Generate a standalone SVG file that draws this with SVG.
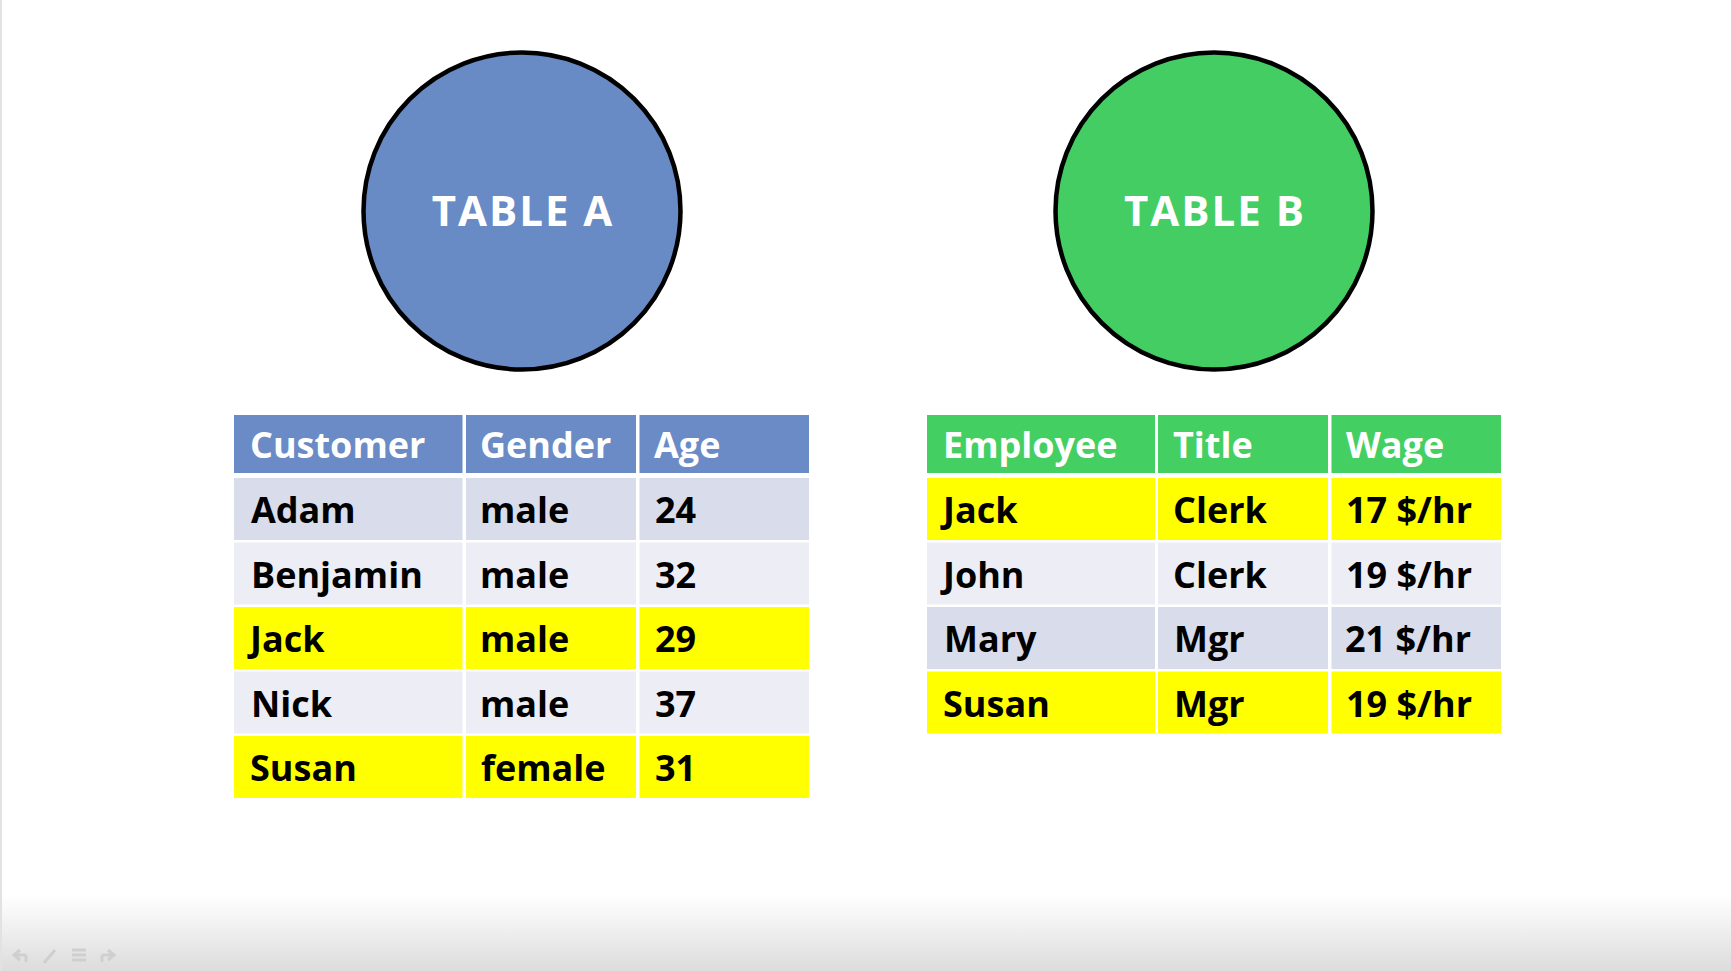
<svg xmlns="http://www.w3.org/2000/svg" width="1731" height="971" viewBox="0 0 1731 971">
<defs>
<linearGradient id="bottomFade" x1="0" y1="0" x2="0" y2="1">
<stop offset="0" stop-color="#ffffff"/>
<stop offset="1" stop-color="#dcdcdc"/>
</linearGradient>
</defs>
<style>
.t{font-family:"Open Sans","Liberation Sans",sans-serif;font-weight:700;font-size:36px;fill:#000}
.h{fill:#fff}
.circ{stroke:#000;stroke-width:4.5}
.ct{font-family:"Open Sans","Liberation Sans",sans-serif;font-weight:700;font-size:42px;fill:#fff;letter-spacing:2px;text-anchor:middle}
.hA{fill:#6a8bc6}
.hB{fill:#44cf63}
.dk{fill:#d9dcea}
.lt{fill:#ededf5}
.yl{fill:#ffff00}
.ic{fill:none;stroke:#cfcfcf;stroke-width:3}
</style>
<rect x="0" y="0" width="1731" height="971" fill="#ffffff"/>
<rect x="0" y="895" width="1731" height="76" fill="url(#bottomFade)"/>
<rect x="0" y="0" width="2" height="971" fill="#e2e2e2"/>
<g id="toolbar">
<path class="ic" d="M26 955 L16 955 M20 950 L14 955 L20 960 M26 955 L26 962"/>
<path class="ic" d="M44 963 L55 950"/>
<path class="ic" d="M72 950 H86 M72 955 H86 M72 960 H86"/>
<path class="ic" d="M102 955 H112 M108 950 L114 955 L108 960 M102 955 V962"/>
</g>
<g id="connectors"/>
<g id="circle-a">
<circle class="circ" cx="522" cy="211" r="158.5" fill="#688ac5"/>
<text class="ct" x="523" y="226">TABLE A</text>
</g>
<g id="circle-b">
<circle class="circ" cx="1214" cy="211" r="158.5" fill="#43cd62"/>
<text class="ct" x="1215" y="226">TABLE B</text>
</g>
<g id="table-a">
<rect class="hA" x="234" y="415" width="228.5" height="58"/>
<rect class="hA" x="466" y="415" width="170" height="58"/>
<rect class="hA" x="639.5" y="415" width="169.5" height="58"/>
<text class="t h" x="250" y="458">Customer</text>
<text class="t h" x="480" y="458">Gender</text>
<text class="t h" x="654" y="458">Age</text>
<rect class="dk" x="234" y="478" width="228.5" height="62"/>
<rect class="dk" x="466" y="478" width="170" height="62"/>
<rect class="dk" x="639.5" y="478" width="169.5" height="62"/>
<text class="t" x="251" y="523">Adam</text>
<text class="t" x="480" y="523">male</text>
<text class="t" x="655" y="523">24</text>
<rect class="lt" x="234" y="542.5" width="228.5" height="62"/>
<rect class="lt" x="466" y="542.5" width="170" height="62"/>
<rect class="lt" x="639.5" y="542.5" width="169.5" height="62"/>
<text class="t" x="251" y="587.5">Benjamin</text>
<text class="t" x="480" y="587.5">male</text>
<text class="t" x="655" y="587.5">32</text>
<rect class="yl" x="234" y="607" width="228.5" height="62"/>
<rect class="yl" x="466" y="607" width="170" height="62"/>
<rect class="yl" x="639.5" y="607" width="169.5" height="62"/>
<text class="t" x="250" y="652">Jack</text>
<text class="t" x="480" y="652">male</text>
<text class="t" x="655" y="652">29</text>
<rect class="lt" x="234" y="671.5" width="228.5" height="62"/>
<rect class="lt" x="466" y="671.5" width="170" height="62"/>
<rect class="lt" x="639.5" y="671.5" width="169.5" height="62"/>
<text class="t" x="251" y="716.5">Nick</text>
<text class="t" x="480" y="716.5">male</text>
<text class="t" x="655" y="716.5">37</text>
<rect class="yl" x="234" y="736" width="228.5" height="62"/>
<rect class="yl" x="466" y="736" width="170" height="62"/>
<rect class="yl" x="639.5" y="736" width="169.5" height="62"/>
<text class="t" x="250" y="781">Susan</text>
<text class="t" x="481" y="781">female</text>
<text class="t" x="655" y="781">31</text>
</g>
<g id="table-b">
<rect class="hB" x="927" y="415" width="228" height="58"/>
<rect class="hB" x="1158" y="415" width="170" height="58"/>
<rect class="hB" x="1331.5" y="415" width="169.5" height="58"/>
<text class="t h" x="943" y="458">Employee</text>
<text class="t h" x="1173" y="458">Title</text>
<text class="t h" x="1346" y="458">Wage</text>
<rect class="yl" x="927" y="478" width="228" height="62"/>
<rect class="yl" x="1158" y="478" width="170" height="62"/>
<rect class="yl" x="1331.5" y="478" width="169.5" height="62"/>
<text class="t" x="943" y="523">Jack</text>
<text class="t" x="1173" y="523">Clerk</text>
<text class="t" x="1346" y="523">17 $/hr</text>
<rect class="lt" x="927" y="542.5" width="228" height="62"/>
<rect class="lt" x="1158" y="542.5" width="170" height="62"/>
<rect class="lt" x="1331.5" y="542.5" width="169.5" height="62"/>
<text class="t" x="943" y="587.5">John</text>
<text class="t" x="1173" y="587.5">Clerk</text>
<text class="t" x="1346" y="587.5">19 $/hr</text>
<rect class="dk" x="927" y="607" width="228" height="62"/>
<rect class="dk" x="1158" y="607" width="170" height="62"/>
<rect class="dk" x="1331.5" y="607" width="169.5" height="62"/>
<text class="t" x="944" y="652">Mary</text>
<text class="t" x="1174" y="652">Mgr</text>
<text class="t" x="1345" y="652">21 $/hr</text>
<rect class="yl" x="927" y="671.5" width="228" height="62"/>
<rect class="yl" x="1158" y="671.5" width="170" height="62"/>
<rect class="yl" x="1331.5" y="671.5" width="169.5" height="62"/>
<text class="t" x="943" y="716.5">Susan</text>
<text class="t" x="1174" y="716.5">Mgr</text>
<text class="t" x="1346" y="716.5">19 $/hr</text>
</g>
</svg>
